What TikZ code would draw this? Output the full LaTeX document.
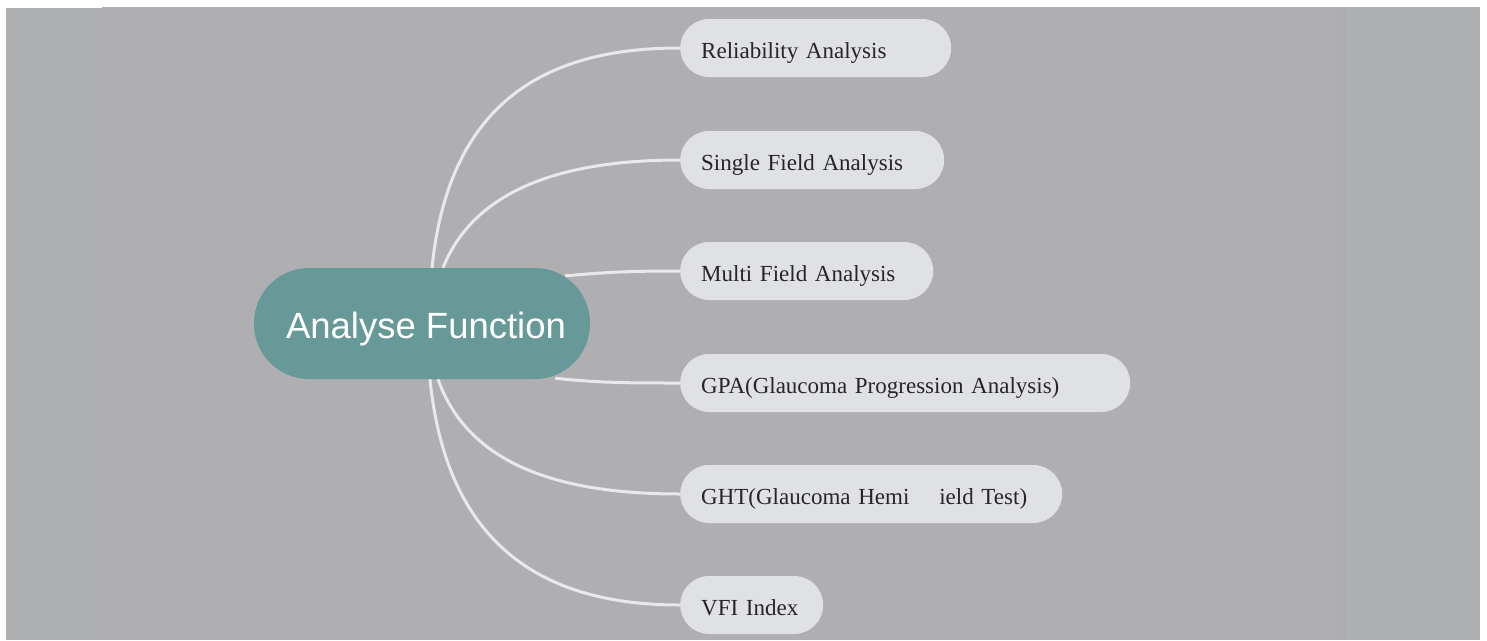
\documentclass[tikz,border=0pt]{standalone}
\usepackage{fontspec}
\setmainfont{Liberation Serif}
\newfontfamily\headfont{Liberation Sans}
\definecolor{bgA}{RGB}{174,176,178}
\definecolor{bgB}{RGB}{175,175,178}
\definecolor{bgC}{RGB}{172,173,176}
\definecolor{teal}{RGB}{102,153,152}
\definecolor{leaf}{RGB}{224,225,228}
\definecolor{wire}{RGB}{233,233,235}
\definecolor{ink}{RGB}{38,38,40}
\pgfdeclarelayer{bgl}
\pgfdeclarelayer{edges}
\pgfsetlayers{bgl,edges,main}
\tikzset{
  hub/.style={rectangle, rounded corners=55pt, fill=teal, minimum width=336pt, minimum height=111pt, inner sep=0pt, text height=30pt, text depth=1pt, text=white, font=\headfont\fontsize{36.5}{40}\selectfont},
  leafbox/.style={rectangle, rounded corners=29pt, fill=leaf, minimum height=58pt, inner xsep=21pt, inner ysep=0pt, text height=22pt, text depth=1.4pt, anchor=west, align=left, text=ink, font=\fontsize{23}{26}\selectfont},
  link/.style={draw=wire, line width=3pt}
}
\begin{document}
\begin{tikzpicture}[x=1pt,y=-1pt]
\useasboundingbox (0,0) rectangle (1487,640);
\begin{pgfonlayer}{bgl}
\fill[white] (0,0) rectangle (1487,640);
\fill[bgA] (6,8) rectangle (102,640);
\fill[bgB] (102,7) rectangle (1335,640);
\fill[bgC] (1335,7) rectangle (1346,640);
\fill[bgA] (1346,7) rectangle (1480,640);
\end{pgfonlayer}
\node[hub] (c) at (422,323.5) {\hspace{8pt}Analyse Function};
\node[leafbox, text width=229pt] (r) at (680,48) {Reliability Analysis};
\node[leafbox, text width=222pt] (s) at (680,160) {Single Field Analysis};
\node[leafbox, text width=211pt] (m) at (680,271) {Multi Field Analysis};
\node[leafbox, text width=408pt] (g) at (680,383) {GPA(Glaucoma Progression Analysis)};
\node[leafbox, text width=340pt] (h) at (680,494) {GHT(Glaucoma Hemi\hspace{1.3em}ield Test)};
\node[leafbox, text width=101pt] (v) at (680,605) {VFI Index};
\begin{pgfonlayer}{edges}
\draw[link] ([xshift=10pt]c.north) .. controls (450,90) and (560,48) .. (r.west);
\draw[link] ([xshift=21pt]c.north) .. controls (475,188) and (565,160) .. (s.west);
\draw[link] ([xshift=-25pt,yshift=-8pt]c.north east) .. controls (610,272) and (630,271) .. (m.west);
\draw[link] ([xshift=-35pt,yshift=1pt]c.south east) .. controls (600,383) and (630,383) .. (g.west);
\draw[link] ([xshift=16pt]c.south) .. controls (470,470) and (570,494) .. (h.west);
\draw[link] ([xshift=8pt]c.south) .. controls (448,560) and (560,605) .. (v.west);
\end{pgfonlayer}
\end{tikzpicture}
\end{document}
